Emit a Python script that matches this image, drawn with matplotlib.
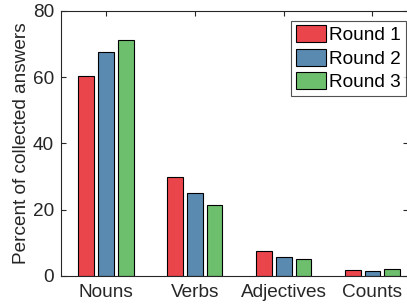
import matplotlib
matplotlib.use("Agg")
import matplotlib.pyplot as plt
import numpy as np

categories = ["Nouns", "Verbs", "Adjectives", "Counts"]
series_names = ["Round 1", "Round 2", "Round 3"]
round1 = [60.5, 29.9, 7.4, 1.9]
round2 = [67.5, 25.0, 5.8, 1.5]
round3 = [71.2, 21.4, 5.1, 2.0]
colors = ["#EB454C", "#5A8AB0", "#6DBF6E"]
yticks = [0, 20, 40, 60, 80]

plt.rcParams['font.family'] = ['Liberation Sans', 'DejaVu Sans']
fig = plt.figure(figsize=(4.07, 3.07), dpi=100)
ax = fig.add_axes([61/407, 31/307, 347/407, 265/307])

x = np.arange(1, len(categories) + 1)
width = 0.177
offsets = [-0.222, 0.0, 0.222]
for vals, name, c, off in zip([round1, round2, round3], series_names, colors, offsets):
    ax.bar(x + off, vals, width, color=c, edgecolor="black", linewidth=0.8, label=name, zorder=2)

ax.set_xlim(0.493, 4.4)
ax.set_ylim(0, 80)
ax.set_xticks(x)
ax.set_xticklabels(categories)
ax.set_yticks(yticks)
tc = "#262626"
fs = 13.7
ax.tick_params(axis="both", direction="in", length=3.5, width=0.8, colors=tc, labelsize=fs, pad=5,
               top=True, right=True, labelcolor=tc)
ax.tick_params(axis="x", pad=6)
for s in ax.spines.values():
    s.set_color(tc)
    s.set_linewidth(0.8)
ax.set_ylabel("Percent of collected answers", fontsize=fs, color=tc, labelpad=2)

leg = ax.legend(loc="upper right", fontsize=fs, frameon=True, fancybox=False,
                edgecolor=tc, handlelength=1.6, handleheight=1.0, handletextpad=0.15,
                labelspacing=0.22, borderpad=0.25, borderaxespad=0.0,
                bbox_to_anchor=(405.7/407, (307-20.7)/307), bbox_transform=fig.transFigure)
leg.get_frame().set_linewidth(0.8)

fig.savefig("out.png", dpi=100)
